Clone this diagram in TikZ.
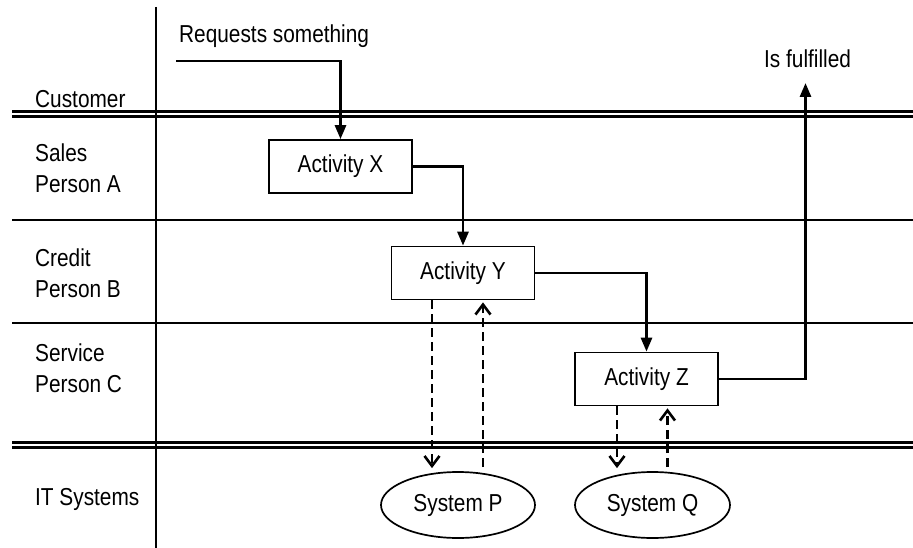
\documentclass[tikz,border=0pt]{standalone}
\usepackage{fontspec}
\setmainfont{Liberation Sans}[FakeStretch=0.85]
\usetikzlibrary{arrows.meta,shapes.geometric}
\begin{document}
\begin{tikzpicture}[x=1pt,y=-1pt,
  every node/.style={font=\fontsize{24.5}{31}\selectfont, inner sep=0pt},
  lanelabel/.style={anchor=base west, align=left},
  actbox/.style={draw, line width=1.7pt, minimum width=143pt, minimum height=53pt},
  sysell/.style={draw, ellipse, line width=1.7pt, minimum width=154pt, minimum height=66pt},
  flow/.style={line width=2.8pt, -{Triangle[length=14pt,width=11pt]}},
  query/.style={line width=2.8pt, dash pattern=on 9pt off 5pt, -{Straight Barb[length=10pt,width=15pt,line width=2.6pt]}},
  thinrule/.style={line width=1.8pt},
  thickrule/.style={line width=3.4pt}]
\useasboundingbox (0,0) rectangle (913,548);
\fill[white] (0,0) rectangle (913,548);

% lane separators
\draw[thickrule] (12,111.7) -- (913,111.7);
\draw[thickrule] (12,116.7) -- (913,116.7);
\draw[thinrule] (12,220) -- (913,220);
\draw[thinrule] (12,323) -- (913,323);
\draw[thickrule] (12,442.7) -- (913,442.7);
\draw[thickrule] (12,447.6) -- (913,447.6);
\draw[thinrule] (156,7) -- (156,548);

% lane labels (base anchor = last line)
\node[lanelabel] (lc) at (35,108) {Customer};
\node[lanelabel] (la) at (35,193) {Sales\\Person A};
\node[lanelabel] (lb) at (35,297) {Credit\\Person B};
\node[lanelabel] (lcc) at (35,392) {Service\\Person C};
\node[lanelabel] (lit) at (35,505) {IT Systems};

% texts
\node[anchor=base west] (req) at (179,43) {Requests something};
\node[anchor=base west] (ful) at (764,68) {Is fulfilled};

% activities
\node[actbox] (X) at (340.5,166.5) {Activity X};
\node[actbox] (Y) at (463,273) {Activity Y};
\node[actbox] (Z) at (646.5,379) {Activity Z};
\node[sysell] (P) at (458,505) {System P};
\node[sysell, minimum width=155pt] (Q) at (652.5,505) {System Q};

\coordinate (start) at (176,61);
\coordinate (done) at (805.5,83);

\draw[flow] (start) -| (X.north);
\draw[flow] (X.east) -| (Y.north);
\draw[flow] (Y.east) -| (Z.north);
\draw[flow] (Z.east) -| (done);

\draw[query, shorten >=3pt] ([xshift=-31pt]Y.south) -- ([xshift=-31pt]Y.south |- P.north);
\draw[query, shorten <=4pt, shorten >=2pt] ([xshift=20pt]Y.south |- P.north) -- ([xshift=20pt]Y.south);
\draw[query, shorten >=3pt] ([xshift=-29.5pt]Z.south) -- ([xshift=-29.5pt]Z.south |- Q.north);
\draw[query, shorten <=4pt, shorten >=2pt] ([xshift=21pt]Z.south |- Q.north) -- ([xshift=21pt]Z.south);
\end{tikzpicture}
\end{document}
